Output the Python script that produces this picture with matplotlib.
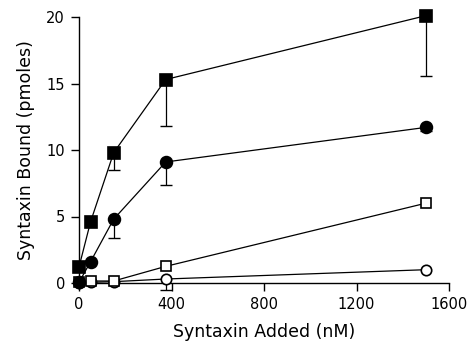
import matplotlib
matplotlib.use('Agg')
import matplotlib.pyplot as plt
import numpy as np

x = [0, 50, 150, 375, 1500]

filled_sq = [1.2, 4.6, 9.8, 15.3, 20.1]
filled_sq_err = [0, 0, 1.3, 3.5, 4.5]
filled_ci = [0.05, 1.6, 4.8, 9.1, 11.7]
filled_ci_err = [0, 0, 1.4, 1.7, 0.3]
open_sq = [0.05, 0.15, 0.15, 1.25, 6.0]
open_sq_err = [0, 0, 0, 0, 0]
open_ci = [0.0, 0.05, 0.1, 0.3, 1.0]
open_ci_err = [0, 0, 0, 0.8, 0]

xticks = [0, 400, 800, 1200, 1600]
yticks = [0, 5, 10, 15, 20]

fig = plt.figure(figsize=(4.71, 3.54), dpi=100)
ax = fig.add_axes([79/471, 1-283/354, (449-79)/471, (283-17)/354])

def series(y, err, marker, filled, ms):
    xs = np.array(x)
    ys = np.array(y)
    e = np.array(err)
    m = e > 0
    # lower-only error bars
    ax.vlines(xs[m], ys[m] - e[m], ys[m], color='black', lw=0.9, zorder=2, clip_on=False)
    ax.plot(xs[m], ys[m] - e[m], ls='none', marker='_', ms=8, mew=1.0,
            color='black', zorder=2, clip_on=False)
    ax.plot(xs, ys, color='black', lw=0.9, marker=marker, ms=ms,
            mfc='black' if filled else 'white', mec='black', mew=1.2,
            clip_on=False, zorder=3)

series(open_ci, open_ci_err, 'o', False, 7.5)
series(open_sq, open_sq_err, 's', False, 7.5)
series(filled_ci, filled_ci_err, 'o', True, 8.5)
series(filled_sq, filled_sq_err, 's', True, 8.5)

ax.set_xlim(0, 1600)
ax.set_ylim(0, 20)
ax.set_xticks(xticks)
ax.set_yticks(yticks)
for s in ['top', 'right']:
    ax.spines[s].set_visible(False)
for s in ['left', 'bottom']:
    ax.spines[s].set_linewidth(1.0)
ax.tick_params(direction='out', length=6, width=1.0, labelsize=10.5, pad=4)
ax.set_xlabel('Syntaxin Added (nM)', fontsize=12.5, labelpad=8)
ax.set_ylabel('Syntaxin Bound (pmoles)', fontsize=12.5, labelpad=8)

fig.savefig('out.png', dpi=100)
